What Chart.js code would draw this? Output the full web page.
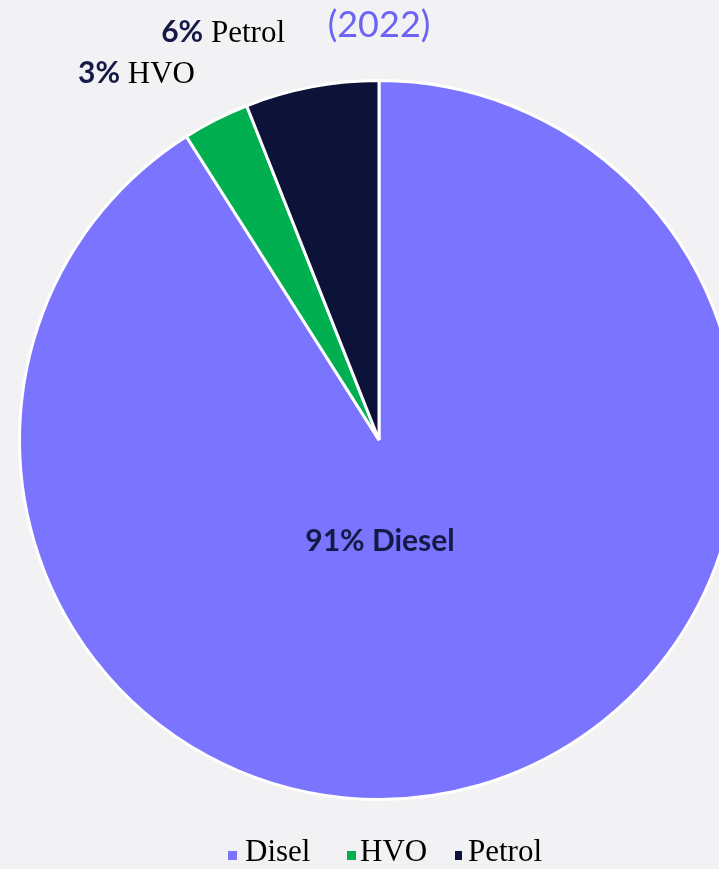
<!DOCTYPE html>
<html>
<head>
<meta charset="utf-8">
<script src="https://cdn.jsdelivr.net/npm/chart.js@4"></script>
<style>
    html, body { margin: 0; padding: 0; background: #F2F2F4; overflow: hidden; }
    #wrap { position: absolute; left: 0; top: 0; width: 760px; height: 869px; }
    #title { position: absolute; left: 379px; top: 1px; transform: translateX(-50%);
             font-family: Lato, sans-serif; font-weight: 400; font-size: 36px; color: #6C63F5; white-space: nowrap; }
    .legend-item { position: absolute; top: 833px; font-family: "Liberation Serif", serif;
                   font-size: 31px; color: #000; white-space: nowrap; }
    .legend-item span.box { display: inline-block; width: 9px; height: 9px; margin-right: 8px; vertical-align: 1px; }
</style>
</head>
<body>
<div id="wrap"><canvas id="fuelChart"></canvas></div>
<div id="title">(2022)</div>
<div id="legend"></div>
<script>
// Fuel mix data
const categories = ['Diesel', 'HVO', 'Petrol'];
const legendLabels = ['Disel', 'HVO', 'Petrol'];
const shares = [91, 3, 6];
const sliceColors = ['#7B74FF', '#00B050', '#0D1238'];

// Slice labels: bold percent + name
const sliceLabels = {
    id: 'sliceLabels',
    afterDatasetsDraw(chart) {
        const ctx = chart.ctx;
        const arcs = chart.getDatasetMeta(0).data;
        const cx = arcs[0].x, cy = arcs[0].y;
        const boldFont = 'bold 30px Lato, sans-serif';
        const serifFont = '31px "Liberation Serif", serif';
        ctx.save();
        ctx.textBaseline = 'alphabetic';
        categories.forEach((name, i) => {
            const pct = shares[i] + '%';
            if (i === 0) {
                // inside label
                ctx.font = 'bold 30px Lato, sans-serif';
                ctx.fillStyle = '#141A45';
                ctx.textAlign = 'center';
                ctx.fillText(pct + ' ' + name, cx + 1, cy + 111);
                return;
            }
            // outside labels, right aligned
            const right = i === 2 ? cx - 94 : cx - 184;
            const base = i === 2 ? 42 : 83;
            ctx.textAlign = 'left';
            ctx.font = serifFont;
            const nameW = ctx.measureText(' ' + name).width;
            ctx.font = boldFont;
            const pctW = ctx.measureText(pct).width;
            const x0 = right - nameW - pctW;
            ctx.fillStyle = '#141A45';
            ctx.fillText(pct, x0, base);
            ctx.font = serifFont;
            ctx.fillStyle = '#000';
            ctx.fillText(' ' + name, x0 + pctW, base);
        });
        ctx.restore();
    }
};

new Chart(document.getElementById('fuelChart'), {
    type: 'pie',
    data: {
        labels: categories,
        datasets: [{
            data: shares,
            backgroundColor: sliceColors,
            borderColor: '#FFFFFF',
            borderWidth: 3
        }]
    },
    options: {
        responsive: true,
        maintainAspectRatio: false,
        animation: false,
        layout: { padding: { left: 18, right: 20, top: 79, bottom: 68 } },
        plugins: {
            legend: { display: false },
            tooltip: { enabled: false }
        }
    },
    plugins: [sliceLabels]
});

// HTML legend
const legendEl = document.getElementById('legend');
const legendX = [228, 347, 455];
legendLabels.forEach((label, i) => {
    const item = document.createElement('div');
    item.className = 'legend-item';
    item.style.left = legendX[i] + 'px';
    const box = document.createElement('span');
    box.className = 'box';
    box.style.background = sliceColors[i];
    if (i === 2) { box.style.width = '7px'; box.style.marginRight = '6px'; }
    if (i === 1) box.style.marginRight = '4px';
    item.appendChild(box);
    item.appendChild(document.createTextNode(label));
    legendEl.appendChild(item);
});
</script>
</body>
</html>
